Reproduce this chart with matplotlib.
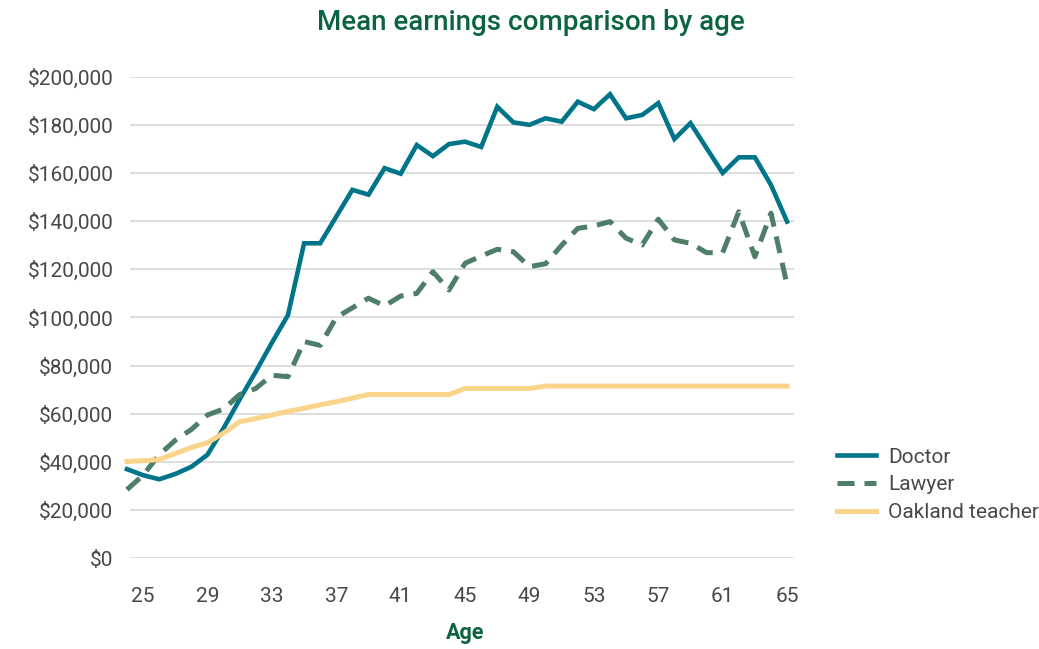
import matplotlib
matplotlib.use('Agg')
import matplotlib.pyplot as plt
from matplotlib.ticker import FuncFormatter

# Mean earnings by age, 24 to 65
ages = list(range(24, 66))

doctor = [37000, 34500, 32800, 35000, 38000, 43000, 54000, 66000, 77500, 89500,
          101000, 130800, 130800, 141900, 153000, 151000, 162000, 159700, 171600, 167000,
          172000, 173000, 170800, 187500, 181000, 180000, 182700, 181300, 189600, 186500,
          192700, 182700, 184100, 189000, 174100, 180700, 170300, 160000, 166500, 166500,
          155000, 139800]

lawyer = [28500, 34500, 43000, 49000, 53500, 59500, 62000, 68000, 70500, 76000,
          75400, 90000, 88400, 100000, 104000, 108000, 104800, 108900, 110000, 119000,
          111400, 122500, 125500, 128300, 127300, 121100, 122300, 130000, 137000, 138000,
          139800, 132900, 130100, 140800, 132200, 130800, 126900, 126900, 143900, 125200,
          143300, 113500]

teacher = [40200, 40500, 41000, 43500, 46000, 48000, 52000, 56700, 58000, 59500,
           61000, 62300, 63700, 65000, 66500, 68000, 68000, 68000, 68000, 68000,
           68000, 70500, 70500, 70500, 70500, 70500, 71500, 71500, 71500, 71500,
           71500, 71500, 71500, 71500, 71500, 71500, 71500, 71500, 71500, 71500,
           71500, 71500]

xticks = list(range(25, 66, 4))

plt.rcParams['font.family'] = ['Roboto', 'DejaVu Sans']

fig = plt.figure(figsize=(10.39, 6.49), dpi=100)
ax = fig.add_axes([0.1251, 0.1398, 0.6391, 0.7421])

ax.plot(ages, doctor, color='#007589', linewidth=3.3, label='Doctor',
        solid_joinstyle='miter', clip_on=False)
ax.plot(ages, lawyer, color='#4E7D68', linewidth=3.6, label='Lawyer',
        dashes=(3.4, 2.0), dash_capstyle='butt', clip_on=False)
ax.plot(ages, teacher, color='#FAD48A', linewidth=3.6, label='Oakland teacher',
        clip_on=False)

ax.set_xlim(24.186, 65.43)
ax.set_ylim(0, 200000)
ax.set_xticks(xticks)
ax.set_yticks(range(0, 200001, 20000))
ax.yaxis.set_major_formatter(FuncFormatter(lambda v, p: '${:,.0f}'.format(v)))

# Horizontal gridlines only, no frame
ax.grid(axis='y', color='#D4D4D4', linewidth=1.1)
ax.set_axisbelow(True)
for s in ax.spines.values():
    s.set_visible(False)
ax.tick_params(axis='both', length=0, labelsize=15, labelcolor='#484848')
ax.tick_params(axis='y', pad=12)
ax.tick_params(axis='x', pad=21)

fig.text(0.511, 1 - 23 / 649, 'Mean earnings comparison by age', ha='center', va='center',
         fontsize=20, color='#0B6440', fontweight='medium')
fig.text(465 / 1039, 1 - 633 / 649, 'Age', ha='center', va='center',
         fontsize=15.5, color='#0B6440', fontweight='bold')

leg = fig.legend(loc='center left', bbox_to_anchor=(829 / 1039, 1 - 485 / 649),
                 frameon=False, fontsize=15, handlelength=1.85, handletextpad=0.6,
                 labelspacing=0.42, borderaxespad=0)
for t in leg.get_texts():
    t.set_color('#484848')

fig.savefig('out.png', dpi=100)
